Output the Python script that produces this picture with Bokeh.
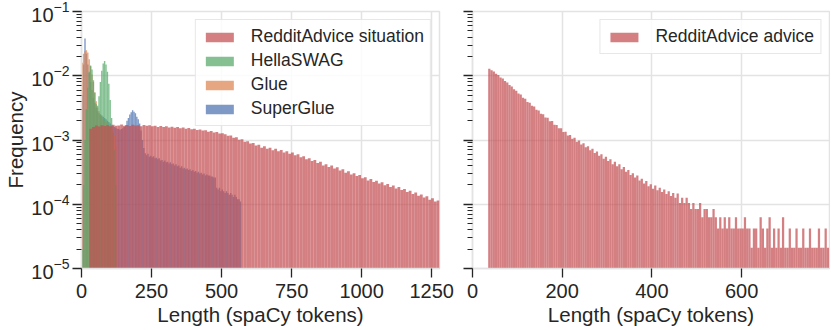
import numpy as np
from bokeh.plotting import figure
from bokeh.models import (Range1d, LogTicker, FixedTicker, Legend, LegendItem,
                          CustomJSTickFormatter)
from bokeh.layouts import row
from bokeh.embed import file_html
from bokeh.resources import INLINE

# ---------------- data (frequencies in units of 1e-4) ----------------
# RedditAdvice situation: bins of 10 tokens starting at 28
situation_start, situation_width = 28, 10
situation_freq = [
    15.0, 16.0, 16.8, 16.2, 17.0, 16.5, 16.9, 16.3,
    17.2, 16.6, 16.8, 17.4, 16.7, 17.1, 16.5, 17.3, 16.8, 17.0,
    16.4, 17.1, 16.6, 16.9, 16.3, 16.7, 16.0, 16.5, 15.9, 16.3,
    15.7, 16.1, 15.5, 15.9, 15.3, 15.6, 15.0, 15.4, 14.7, 15.0,
    14.3, 14.6, 14.0, 14.2, 13.5, 13.8, 13.1, 13.3, 12.6, 12.7,
    12.3, 11.6, 11.7, 10.8, 11.0, 10.1, 10.3, 9.4, 9.6, 8.8,
    9.0, 8.2, 8.4, 7.6, 8.0, 7.3, 7.6, 6.9, 7.3, 6.7,
    7.0, 6.4, 6.7, 6.1, 6.4, 5.8, 6.0, 5.4, 5.6, 5.0,
    5.2, 4.7, 4.9, 4.4, 4.6, 4.0, 4.2, 3.8, 4.0, 3.6,
    3.75, 3.35, 3.5, 3.1, 3.25, 2.9, 3.05, 2.75, 2.85, 2.55,
    2.62, 2.35, 2.48, 2.22, 2.33, 2.1, 2.2, 1.97, 2.07, 1.86,
    1.96, 1.76, 1.85, 1.66, 1.73, 1.55, 1.62, 1.45, 1.52, 1.36,
    1.42, 1.27, 1.33, 1.18, 1.24, 1.1, 1.14,
]

# HellaSWAG: bins of 5 tokens starting at 0
hellaswag_start, hellaswag_width = 0, 5
hellaswag_freq = [0.2, 2, 10, 30, 65, 115, 145, 125, 85, 55, 36, 34, 48,
                  80, 120, 155, 170, 150, 115, 75, 42, 22, 13, 7, 2]

# Glue: bins of 5 tokens starting at 0
glue_start, glue_width = 0, 5
glue_freq = [160, 220, 240, 250, 230, 180, 140, 105, 80, 55, 40, 32, 28,
             25, 23, 21, 20, 19, 18, 17, 16, 15, 14, 12, 8]

# SuperGlue: bins of 5 tokens starting at 0
superglue_start, superglue_width = 0, 5
superglue_freq = [
    50, 150, 380, 220, 150, 110, 80, 60, 45, 38,
    32, 28, 26, 25, 24, 23, 22, 21, 20, 19,
    18, 17, 16.5, 16, 15.5, 15, 14.8, 14.5, 14.8, 15.2,
    16, 17, 20, 22, 25, 27, 29, 27.5, 26, 23,
    21, 18, 14, 10, 7.5, 6.2, 5.8, 6.1, 5.5, 5.7,
    5.4, 5.6, 5.2, 5.3, 5.0, 5.2, 4.8, 4.9, 4.6, 4.8,
    4.5, 4.6, 4.3, 4.5, 4.2, 4.3, 4.0, 4.2, 3.9, 4.0,
    3.7, 3.9, 3.6, 3.7, 3.5, 3.6, 3.4, 3.5, 3.3, 3.4,
    3.2, 3.3, 3.1, 3.2, 3.0, 3.1, 2.9, 3.0, 2.8, 2.9,
    2.8, 2.8, 2.7, 2.7, 2.6, 2.6, 1.8, 1.7, 1.8, 1.6,
    1.7, 1.6, 1.5, 1.6, 1.5, 1.4, 1.5, 1.4, 1.3, 1.4,
    1.3, 1.2, 1.2, 1.1,
]

# RedditAdvice advice: bins of 5 tokens starting at 35
advice_start, advice_width = 35, 5
advice_freq = [
    129, 122, 116, 107, 103, 94, 91, 83, 78.5, 71.5,
    68.2, 61.5, 58.3, 52.8, 50.9, 45.3, 43.9, 39.1, 37.9, 34.0,
    33.1, 29.5, 28.9, 25.6, 25.1, 22.3, 22.2, 19.6, 19.7, 17.2,
    17.1, 15.3, 15.3, 13.3, 13.5, 11.8, 12.0, 10.5, 10.8, 9.4,
    9.8, 8.5, 8.9, 7.7, 8.0, 6.9, 7.3, 6.3, 6.6, 5.7,
    6.0, 5.1, 5.5, 4.7, 5.0, 4.2, 4.6, 3.9, 4.2, 3.5,
    3.8, 3.2, 3.4, 2.85, 3.05, 2.6, 2.8, 2.35, 2.5, 2.1,
    2.3, 1.9, 2.05, 1.75, 1.95, 1.65, 1.8, 1.55, 1.7, 1.45,
    1.6, 1.35, 1.5,
    1.26, 1.47, 1.05, 1.26, 1.05, 1.26, 1.05, 0.84, 1.05, 0.84,
    0.84, 1.05, 0.63, 0.84, 0.84, 0.63, 0.63, 0.84, 0.63, 0.42,
    0.63, 0.42, 0.63, 0.42, 0.63, 0.42, 0.42, 0.63, 0.42, 0.42,
    0.42, 0.63, 0.42, 0.42, 0.21, 0.42, 0.42, 0.21, 0.63, 0.42,
    0.21, 0.42, 0.63, 0.21, 0.42, 0.21, 0.42, 0.21, 0.63, 0.21,
    0.21, 0.42, 0.21, 0.21, 0.42, 0.21, 0.21, 0.42, 0.21, 0.21,
    0.42, 0.21, 0.21, 0.21, 0.42, 0.21, 0.21, 0.42, 0.21,
]

left_xticks = [0, 250, 500, 750, 1000, 1250]
right_xticks = [0, 200, 400, 600]

# ---------------- styling ----------------
RED, GREEN, ORANGE, BLUE = "#C44E52", "#55A868", "#DD8452", "#4C72B0"
ALPHA = 0.72
FONT = "Liberation Sans"
TXT = "#262626"
FRAME = "#e3e3e3"
FLOOR = 1e-6


def hist(p, start, width, freq_e4, color):
    f = np.asarray(freq_e4, dtype=float) * 1e-4
    left = start + width * np.arange(len(f))
    m = f > 0
    return p.quad(left=left[m], right=left[m] + width, top=f[m], bottom=FLOOR,
                  fill_color=color, fill_alpha=ALPHA, line_color=None)


def style(p, xticks):
    p.outline_line_color = FRAME
    p.outline_line_width = 1.5
    p.background_fill_color = "white"
    p.border_fill_color = "white"
    for g in (p.xgrid, p.ygrid):
        g.grid_line_color = FRAME
        g.grid_line_width = 1.5
    for ax in p.axis:
        ax.axis_line_color = FRAME
        ax.axis_line_width = 1.5
        ax.major_tick_line_color = TXT
        ax.major_tick_line_width = 1.3
        ax.major_tick_in = 0
        ax.major_tick_out = 9
        ax.minor_tick_line_color = TXT
        ax.minor_tick_line_width = 1.1
        ax.minor_tick_in = 0
        ax.minor_tick_out = 5
        ax.major_label_text_font = FONT
        ax.major_label_text_font_size = "20px"
        ax.major_label_text_color = TXT
        ax.axis_label_text_font = FONT
        ax.axis_label_text_font_size = "20.5px"
        ax.axis_label_text_font_style = "normal"
        ax.axis_label_text_color = TXT
    p.xaxis.ticker = FixedTicker(ticks=xticks)
    p.xaxis.minor_tick_out = 0
    p.xaxis.major_label_standoff = 6
    p.xaxis.axis_label_standoff = 2
    p.xaxis.axis_label = "Length (spaCy tokens)"
    p.yaxis.ticker = LogTicker(num_minor_ticks=10)


def make_legend(items):
    lg = Legend(items=items, location="top_right")
    lg.border_line_color = "#d0d0d0"
    lg.border_line_width = 1.2
    lg.background_fill_alpha = 0.85
    lg.label_text_font = FONT
    lg.label_text_font_size = "17.5px"
    lg.label_text_color = TXT
    lg.glyph_width = 35
    lg.glyph_height = 12
    lg.label_height = 21
    lg.label_standoff = 14
    lg.spacing = 3
    lg.padding = 6
    lg.margin = 8
    return lg


# ---------------- left panel ----------------
p1 = figure(width=455, height=328, y_axis_type="log",
            x_range=Range1d(0, 1278), y_range=Range1d(1e-5, 1e-1),
            output_backend="svg", toolbar_location=None,
            min_border_left=81, min_border_right=16,
            min_border_top=11, min_border_bottom=60)
style(p1, left_xticks)
p1.yaxis.axis_label = "Frequency"
p1.yaxis.axis_label_standoff = 1
p1.yaxis.major_label_standoff = 3

r_blue = hist(p1, superglue_start, superglue_width, superglue_freq, BLUE)
r_orange = hist(p1, glue_start, glue_width, glue_freq, ORANGE)
r_green = hist(p1, hellaswag_start, hellaswag_width, hellaswag_freq, GREEN)
r_red = hist(p1, situation_start, situation_width, situation_freq, RED)

p1.add_layout(make_legend([
    LegendItem(label="RedditAdvice situation", renderers=[r_red]),
    LegendItem(label="HellaSWAG", renderers=[r_green]),
    LegendItem(label="Glue", renderers=[r_orange]),
    LegendItem(label="SuperGlue", renderers=[r_blue]),
]))

# ---------------- right panel ----------------
p2 = figure(width=375, height=328, y_axis_type="log",
            x_range=Range1d(0, 796), y_range=p1.y_range,
            output_backend="svg", toolbar_location=None,
            min_border_left=17, min_border_right=1,
            min_border_top=11, min_border_bottom=60)
style(p2, right_xticks)
p2.yaxis.formatter = CustomJSTickFormatter(code="return ''")
p2.yaxis.major_label_standoff = 0

r_adv = hist(p2, advice_start, advice_width, advice_freq, RED)
p2.add_layout(make_legend([
    LegendItem(label="RedditAdvice advice", renderers=[r_adv]),
]))

layout = row(p1, p2)
open("out.html", "w").write(file_html(layout, INLINE))
